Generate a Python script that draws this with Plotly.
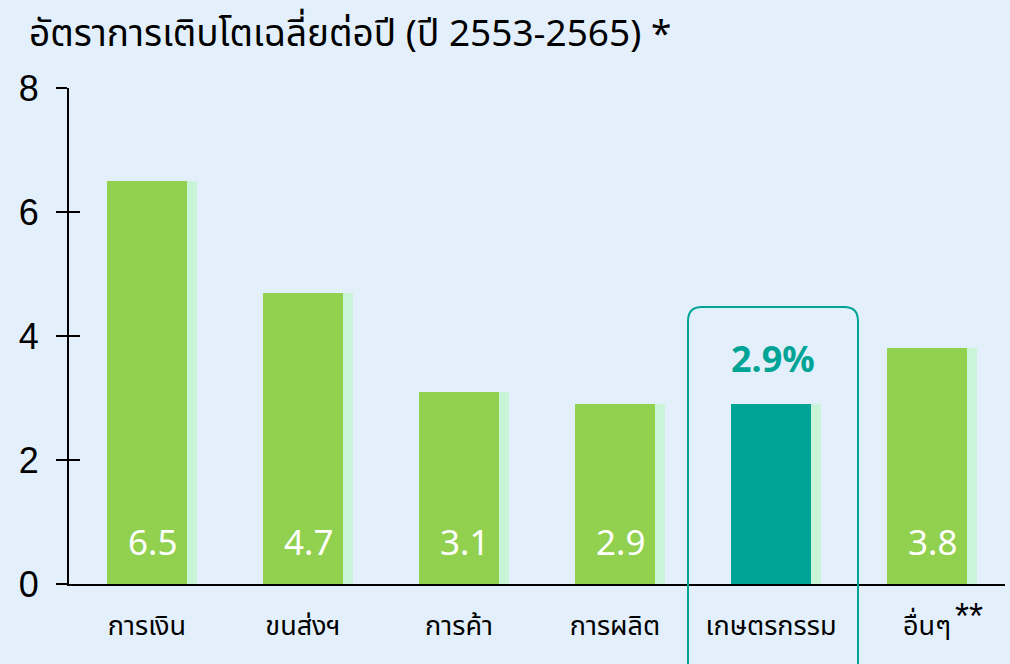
import plotly.graph_objects as go

categories = ["การเงิน", "ขนส่งฯ", "การค้า", "การผลิต", "เกษตรกรรม", "อื่นๆ"]
category_notes = ["", "", "", "", "", "**"]
values = [6.5, 4.7, 3.1, 2.9, 2.9, 3.8]
value_labels = ["6.5", "4.7", "3.1", "2.9", "", "3.8"]
highlight_index = 4
highlight_label = "2.9%"
title_text = "อัตราการเติบโตเฉลี่ยต่อปี (ปี 2553-2565) *"
y_ticks = [0, 2, 4, 6, 8]

BG = "#e3f0fb"
GREEN = "#92d050"
TEAL = "#00a496"
SHADOW = "#c8f5d8"
THAI_FONT = "Noto Sans Thai, Noto Sans, Tahoma, sans-serif"

bar_colors = [TEAL if i == highlight_index else GREEN for i in range(len(categories))]

fig = go.Figure()
# light shadow behind each bar (slightly wider, extends to the right)
fig.add_trace(go.Bar(
    x=categories, y=values, marker=dict(color=SHADOW, line=dict(width=0)),
    width=0.577, offset=-0.2565, hoverinfo="skip", showlegend=False,
))
fig.add_trace(go.Bar(
    x=categories, y=values, marker=dict(color=bar_colors, line=dict(width=0)),
    width=0.513, offset=-0.2565, showlegend=False,
))
# overlay axis for inside tick halves (crossing ticks)
fig.add_trace(go.Scatter(x=[categories[0]], y=[0], yaxis="y2", mode="markers",
                         marker=dict(opacity=0), hoverinfo="skip", showlegend=False))

annotations = []
for c, lab in zip(categories, value_labels):
    if lab:
        annotations.append(dict(
            x=c, y=0, xref="x", yref="y", text=lab, showarrow=False,
            yanchor="bottom", xshift=5, yshift=17,
            font=dict(family="Noto Sans, Open Sans, sans-serif", size=35, color="white"),
        ))
for c, note in zip(categories, category_notes):
    if note:
        annotations.append(dict(
            x=c, y=-0.0665, xref="x", yref="paper", text=note, showarrow=False,
            xanchor="left", yanchor="middle", xshift=26,
            font=dict(family="Liberation Sans, Arial, sans-serif", size=36, color="black"),
        ))
annotations.append(dict(
    x=categories[highlight_index], y=values[highlight_index], xref="x", yref="y",
    text="<b>" + highlight_label + "</b>", showarrow=False, yanchor="bottom",
    xshift=2, yshift=19,
    font=dict(family="Noto Sans, Open Sans, sans-serif", size=36, color=TEAL),
))
annotations.append(dict(
    x=-0.0449, y=1.107, xref="paper", yref="paper", xanchor="left", yanchor="middle",
    text=title_text, showarrow=False,
    font=dict(family=THAI_FONT, size=37, color="black"),
))

# rounded highlight box around the highlighted category (pixel-sized, anchored to it)
r = 14
x0, x1, y0, y1 = -83, 87, -120, 277
box_path = (f"M {x0+r},{y1} L {x1-r},{y1} Q {x1},{y1} {x1},{y1-r} "
            f"L {x1},{y0+r} Q {x1},{y0} {x1-r},{y0} L {x0+r},{y0} "
            f"Q {x0},{y0} {x0},{y0+r} L {x0},{y1-r} Q {x0},{y1} {x0+r},{y1} Z")
shapes = [dict(
    type="path", xref="x", yref="paper", xsizemode="pixel", ysizemode="pixel",
    xanchor=categories[highlight_index], yanchor=0, path=box_path,
    line=dict(color=TEAL, width=2), fillcolor="rgba(0,0,0,0)", layer="above",
)]

fig.update_layout(
    width=1010, height=664,
    margin=dict(l=69, r=5, t=88, b=80),
    paper_bgcolor=BG, plot_bgcolor=BG,
    barmode="overlay", bargap=0,
    annotations=annotations, shapes=shapes,
    xaxis=dict(
        type="category", range=[-0.5, len(categories) - 0.5],
        showline=True, linecolor="black", linewidth=2, ticks="",
        showgrid=False, zeroline=False,
        tickfont=dict(family=THAI_FONT, size=27, color="black"),
        ticklabelstandoff=17,
    ),
    yaxis=dict(
        range=[0, 8], tickvals=y_ticks, ticks="outside", ticklen=11, tickwidth=1.5,
        tickcolor="black", showline=True, linecolor="black", linewidth=2,
        showgrid=False, zeroline=False,
        tickfont=dict(family="Liberation Sans, Arial, sans-serif", size=36, color="black"),
        ticklabelstandoff=10,
    ),
    yaxis2=dict(
        overlaying="y", side="left", range=[0, 8], tickvals=y_ticks, ticks="inside",
        ticklen=11, tickwidth=1.5, tickcolor="black", showticklabels=False,
        showgrid=False, zeroline=False, showline=False,
    ),
)

fig.write_html("out.html", config={"displayModeBar": False},
               post_script="document.body.style.margin='0px';")
